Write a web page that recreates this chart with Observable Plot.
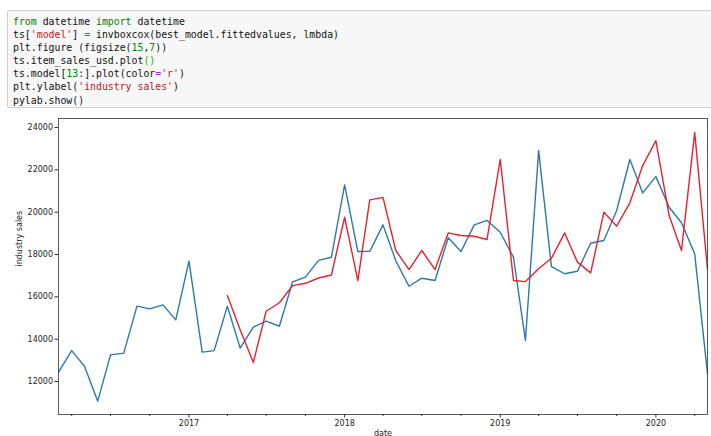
<!DOCTYPE html>
<html>
<head>
<meta charset="utf-8">
<script src="https://cdn.jsdelivr.net/npm/d3@7"></script>
<script src="https://cdn.jsdelivr.net/npm/@observablehq/plot@0.6"></script>
<style>
  html, body { margin: 0; padding: 0; background: #fff; }
  body { width: 711px; height: 436px; overflow: hidden; position: relative; }
  .cell {
    position: absolute; left: 7px; top: 10px; width: 730px; height: 98px;
    box-sizing: border-box; border: 1px solid #cfcfcf; border-radius: 2px;
    background: #f7f7f7; padding: 4px 0 0 5px;
  }
  .line {
    white-space: pre; height: 13.1px; line-height: 13.1px;
    font-family: "DejaVu Sans Mono", "Liberation Mono", monospace;
    font-size: 9.85px; color: #111;
  }
  .kw { color: #008000; }
  .str { color: #ba2121; }
  .num { color: #008800; }
  .op { color: #aa22ff; }
  .mb { color: #00bb00; }
  #chart { position: absolute; left: 0; top: 108px; }
</style>
</head>
<body>
<div class="cell">
  <div class="line"><span class="kw">from</span><span> datetime </span><span class="kw">import</span><span> datetime</span></div>
  <div class="line"><span>ts[</span><span class="str">'model'</span><span>] </span><span class="op">=</span><span> invboxcox(best_model.fittedvalues, lmbda)</span></div>
  <div class="line"><span>plt.figure (figsize(</span><span class="num">15</span><span>,</span><span class="num">7</span><span>))</span></div>
  <div class="line"><span>ts.item_sales_usd.plot</span><span class="mb">()</span></div>
  <div class="line"><span>ts.model[</span><span class="num">13</span><span>:].plot(color</span><span class="op">=</span><span class="str">'r'</span><span>)</span></div>
  <div class="line"><span>plt.ylabel(</span><span class="str">'industry sales'</span><span>)</span></div>
  <div class="line"><span>pylab.show()</span></div>
</div>
<div id="chart"></div>
<script>
// Monthly industry sales, March 2016 through May 2020
const startMonth = "2016-03-01";
const endMonth = "2020-05-01";

const itemSalesUsd = [
  12440, 13460, 12720, 11070, 13260, 13340, 15560, 15430, 15620, 14910,
  17690, 13390, 13460, 15560, 13580, 14570, 14850, 14610, 16710, 16930, 17720, 17870,
  21290, 18140, 18150, 19400, 17700, 16500, 16880, 16770, 18790, 18140, 19400, 19610,
  19050, 17870, 13940, 22910, 17430, 17090, 17210, 18530, 18660, 20080, 22490, 20910,
  21680, 20230, 19500, 18030, 12360
];

// Fitted model values, shown from the 14th month on (model[13:])
const modelOffset = 13;
const modelValues = [
  16060, 14450, 12900, 15320, 15720, 16530, 16640, 16890, 17030,
  19760, 16770, 20580, 20700, 18190, 17290, 18190, 17290, 19020, 18900, 18860, 18710,
  22490, 16770, 16720, 17330, 17820, 19020, 17640, 17130, 20000, 19340, 20440, 22200,
  23380, 19840, 18190, 23770, 17290
];

const yTicks = [12000, 14000, 16000, 18000, 20000, 22000, 24000];
const yearTicks = ["2017-01-01", "2018-01-01", "2019-01-01", "2020-01-01"];

const start = new Date(startMonth + "T00:00:00Z");
const end = new Date(endMonth + "T00:00:00Z");
const months = d3.utcMonth.range(start, d3.utcMonth.offset(end, 1));

const sales = itemSalesUsd.map((v, i) => ({date: months[i], value: v}));
const model = modelValues.map((v, i) => ({date: months[i + modelOffset], value: v}));

const majorTicks = yearTicks.map(s => new Date(s + "T00:00:00Z"));
const minorTicks = d3.utcMonth.every(3).range(start, d3.utcMonth.offset(end, 1))
  .filter(d => d.getUTCMonth() !== 0);

const chart = Plot.plot({
  width: 711,
  height: 337,
  marginTop: 10,
  marginLeft: 58,
  marginRight: 4,
  marginBottom: 31,
  style: {fontFamily: "DejaVu Sans, sans-serif", fontSize: "8px", color: "#222", background: "transparent"},
  x: {type: "utc", domain: [start, end], label: null},
  y: {domain: [10441, 24425], label: null},
  marks: [
    Plot.axisY({ticks: yTicks, tickSize: 3.5, tickPadding: 2, tickFormat: d => String(d), stroke: "#333", label: null}),
    Plot.axisX({ticks: majorTicks, tickSize: 3.5, tickPadding: 2, tickFormat: d3.utcFormat("%Y"), stroke: "#333", label: null}),
    Plot.axisX({ticks: minorTicks, tickSize: 2, tickFormat: () => "", stroke: "#333", label: null}),
    Plot.lineY(sales, {x: "date", y: "value", stroke: "#2e77ab", strokeWidth: 1.4}),
    Plot.lineY(model, {x: "date", y: "value", stroke: "#e8222c", strokeWidth: 1.4}),
    Plot.frame({stroke: "#333", strokeWidth: 0.8}),
    Plot.text(["industry sales"], {frameAnchor: "left", dx: -39, rotate: -90, text: d => d, fill: "#222"}),
    Plot.text(["date"], {frameAnchor: "bottom", dy: 21, text: d => d, fill: "#222"})
  ]
});
document.getElementById("chart").appendChild(chart);
</script>
</body>
</html>
